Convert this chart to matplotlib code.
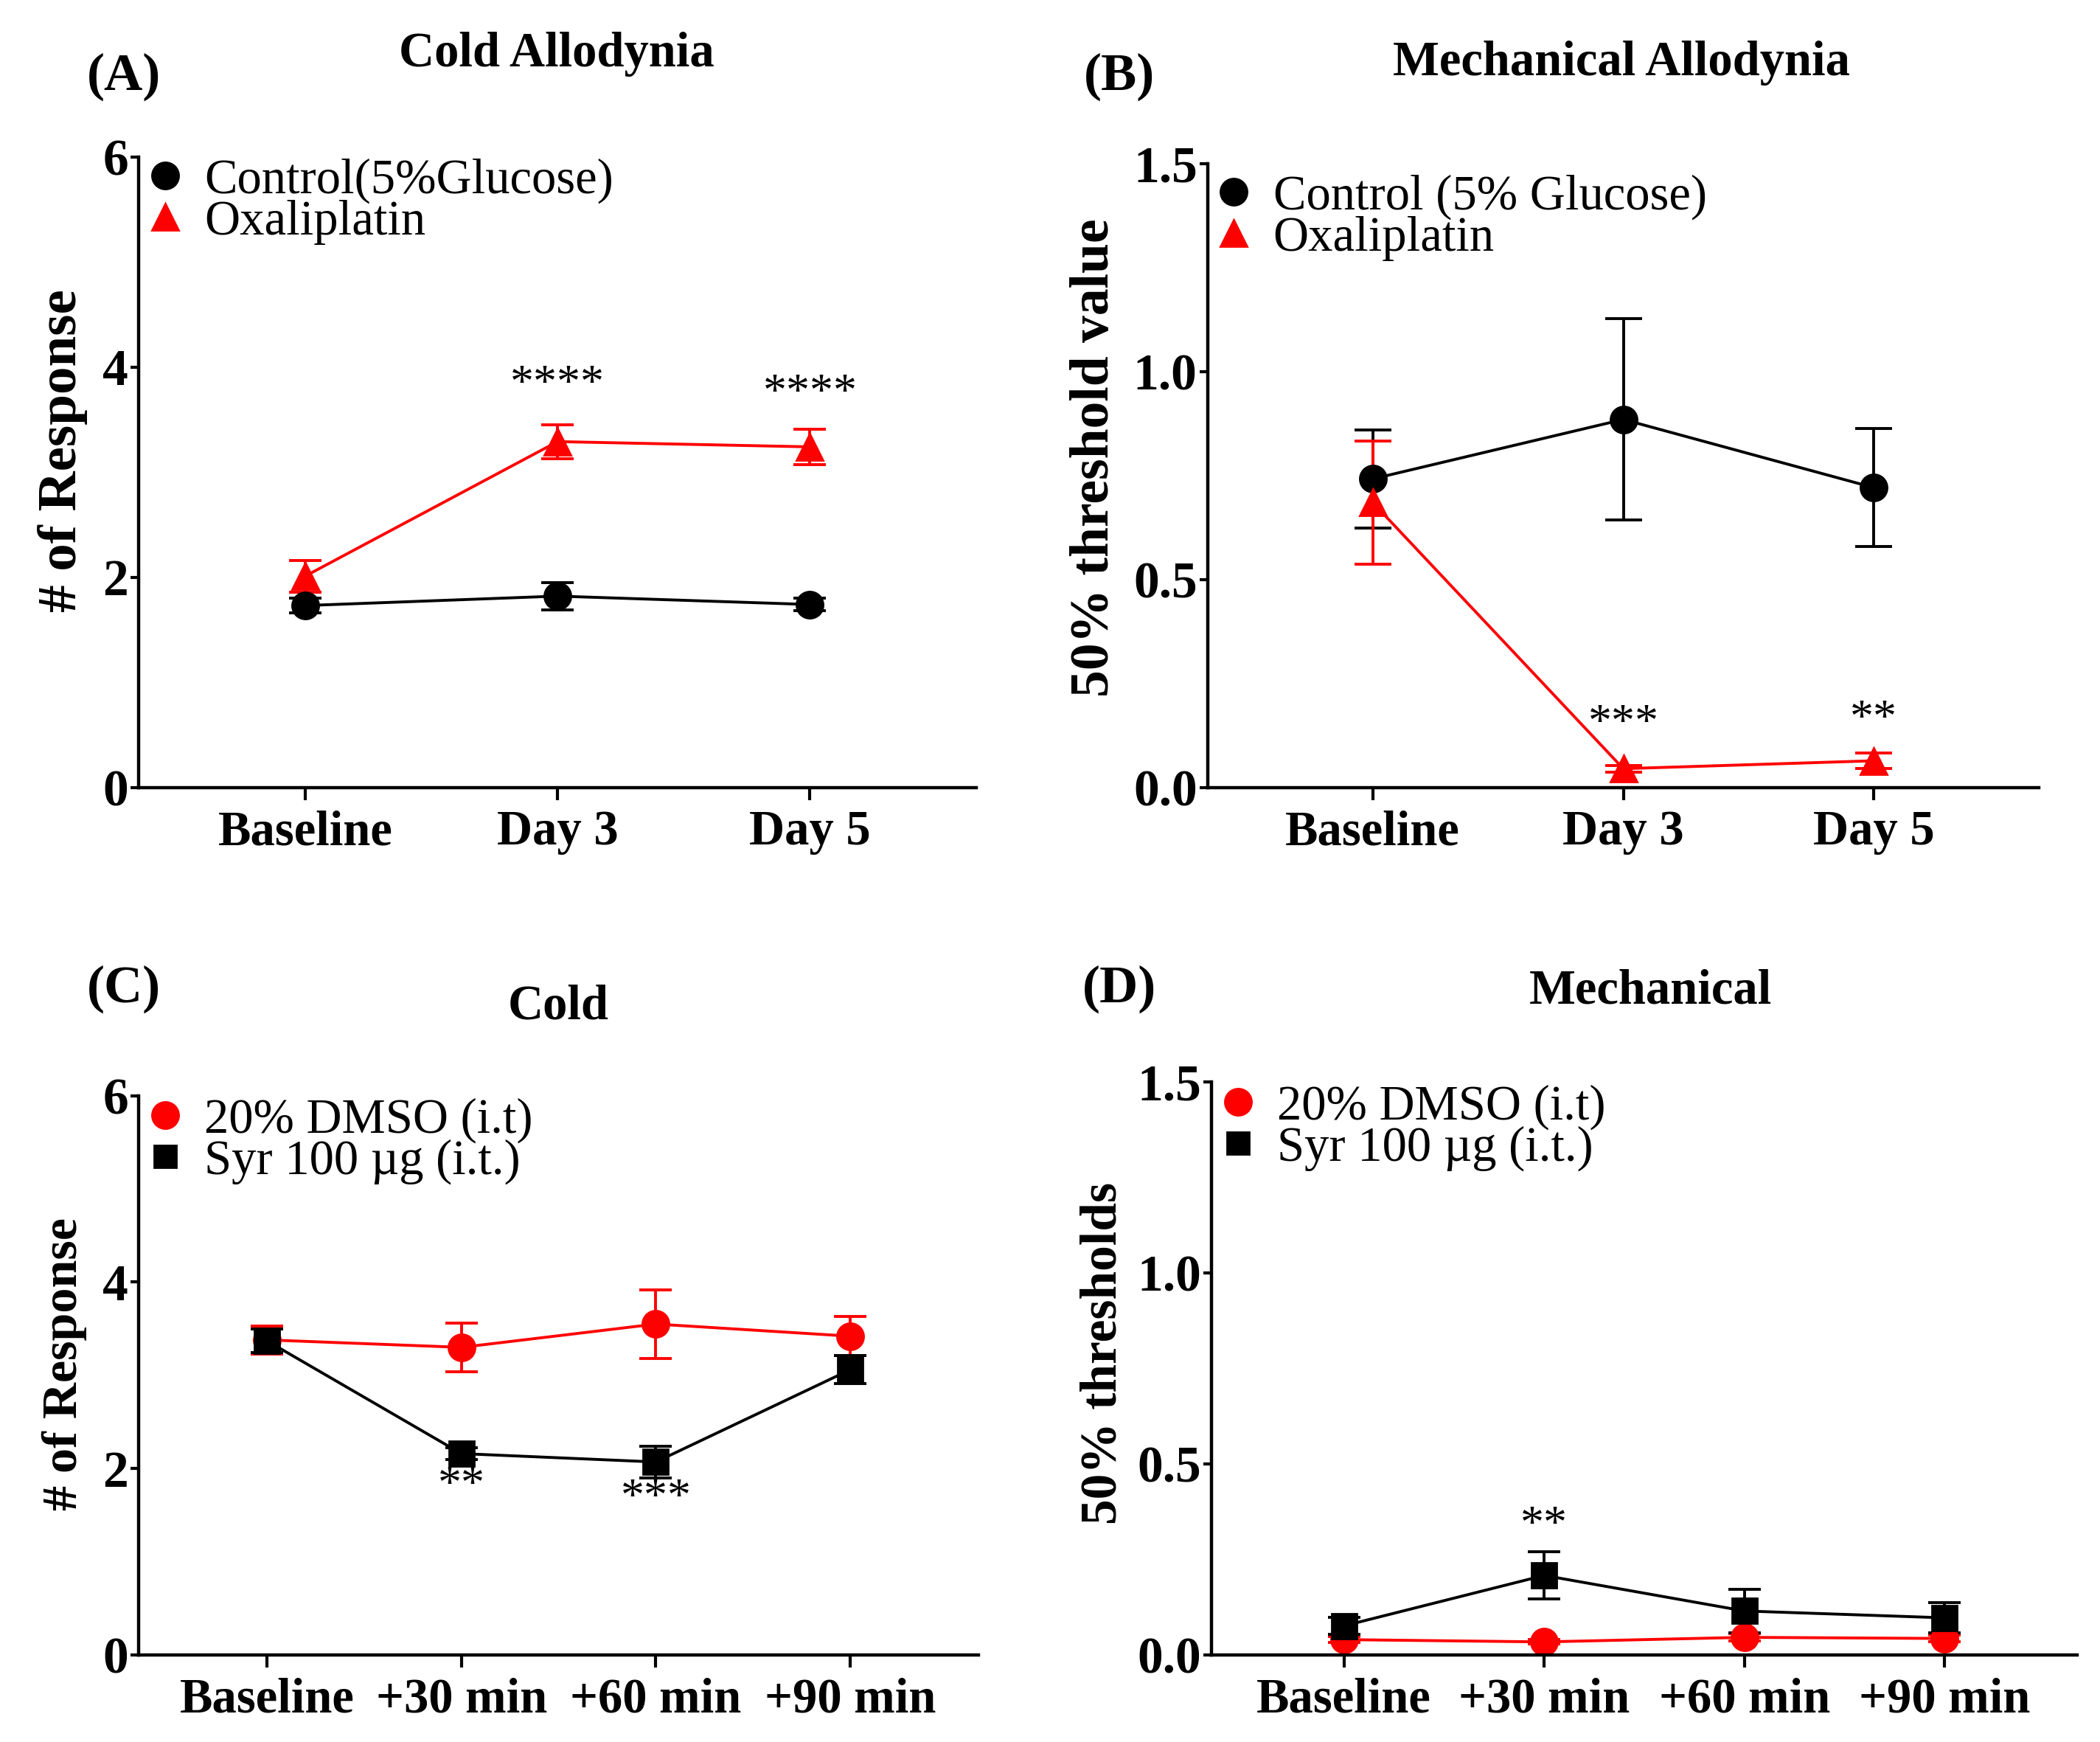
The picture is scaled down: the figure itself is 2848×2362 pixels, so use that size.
import matplotlib
matplotlib.use("Agg")
import matplotlib.pyplot as plt
from matplotlib.lines import Line2D
import numpy as np

plt.rcParams['font.family'] = ['Liberation Serif', 'DejaVu Serif']

RED = '#ff0000'

# ---------------- data ----------------
days = ['Baseline', 'Day 3', 'Day 5']
cold_ctrl = [1.73, 1.82, 1.74]
cold_ctrl_err = [0.07, 0.13, 0.06]
cold_oxa = [2.01, 3.29, 3.24]
cold_oxa_err = [0.15, 0.16, 0.17]
cold_stars = ['', '****', '****']
cold_star_y = [0, 3.82, 3.74]

mech_ctrl = [0.742, 0.885, 0.721]
mech_ctrl_err = [0.118, 0.242, 0.142]
mech_oxa = [0.685, 0.045, 0.064]
mech_oxa_err = [0.148, 0.008, 0.018]
mech_stars = ['', '***', '**']
mech_star_y = [0, 0.15, 0.16]

times = ['Baseline', '+30 min', '+60 min', '+90 min']
cold_dmso = [3.38, 3.30, 3.55, 3.42]
cold_dmso_err = [0.15, 0.26, 0.37, 0.21]
cold_syr = [3.37, 2.16, 2.07, 3.06]
cold_syr_err = [0.13, 0.06, 0.17, 0.15]
cold2_stars = ['', '**', '***', '']
cold2_star_y = [0, 1.80, 1.67, 0]

mech_dmso = [0.040, 0.034, 0.046, 0.043]
mech_dmso_err = [0.008, 0.006, 0.010, 0.008]
mech_syr = [0.076, 0.208, 0.115, 0.097]
mech_syr_err = [0.022, 0.062, 0.057, 0.040]
mech2_stars = ['', '**', '', '']
mech2_star_y = [0, 0.335, 0, 0]


def style_axis(ax, labels, ylim, yticks, yticklabels):
    n = len(labels)
    ax.set_xlim(-0.66, n - 1 + 0.66)
    ax.set_ylim(*ylim)
    ax.set_xticks(range(n))
    ax.set_xticklabels(labels, fontsize=24, fontweight='bold')
    ax.set_yticks(yticks)
    ax.set_yticklabels(yticklabels, fontsize=25, fontweight='bold')
    for s in ['top', 'right']:
        ax.spines[s].set_visible(False)
    for s in ['left', 'bottom']:
        ax.spines[s].set_linewidth(1.6)
    ax.tick_params(axis='x', length=6, width=1.5, pad=5)
    ax.tick_params(axis='y', length=4, width=1.5, pad=1)


def add_stars(ax, stars, ys):
    for i, (s, y) in enumerate(zip(stars, ys)):
        if s:
            ax.text(i, y, s, ha='center', va='center', fontsize=23)


def add_legend(ax, handles, labels, top):
    ax.legend(handles, labels, loc='upper left', bbox_to_anchor=(0.005, top),
              frameon=False, fontsize=24, handlelength=0.9, handletextpad=0.35,
              labelspacing=-0.08, borderaxespad=0, borderpad=0)


fig = plt.figure(figsize=(14.24, 11.81), dpi=200)
eb = dict(lw=1.4, capthick=1.4, elinewidth=1.4)

# ---------------- (A) Cold Allodynia ----------------
axA = fig.add_axes([0.066, 0.548, 0.399, 0.362])
x = np.arange(len(days))
axA.errorbar(x, cold_ctrl, yerr=cold_ctrl_err, color='black', marker='o', ms=13,
             capsize=8, **eb)
axA.errorbar(x, cold_oxa, yerr=cold_oxa_err, color=RED, marker='^', ms=13,
             capsize=8, **eb)
style_axis(axA, days, (0, 6), [0, 2, 4, 6], ['0', '2', '4', '6'])
add_stars(axA, cold_stars, cold_star_y)
add_legend(axA,
           [Line2D([], [], color='black', marker='o', ls='', ms=13),
            Line2D([], [], color=RED, marker='^', ls='', ms=13)],
           ['Control(5%Glucose)', 'Oxaliplatin'], 0.998)
axA.set_ylabel('# of Response', fontsize=27, fontweight='bold')
axA.yaxis.set_label_coords(-0.061, 0.534)

# ---------------- (B) Mechanical Allodynia ----------------
axB = fig.add_axes([0.575, 0.548, 0.396, 0.358])
axB.errorbar(x, mech_ctrl, yerr=mech_ctrl_err, color='black', marker='o', ms=13,
             capsize=9, **eb)
axB.errorbar(x, mech_oxa, yerr=mech_oxa_err, color=RED, marker='^', ms=13,
             capsize=9, **eb)
style_axis(axB, days, (0, 1.5), [0, 0.5, 1.0, 1.5], ['0.0', '0.5', '1.0', '1.5'])
add_stars(axB, mech_stars, mech_star_y)
add_legend(axB,
           [Line2D([], [], color='black', marker='o', ls='', ms=13),
            Line2D([], [], color=RED, marker='^', ls='', ms=13)],
           ['Control (5% Glucose)', 'Oxaliplatin'], 0.983)
axB.set_ylabel('50% threshold value', fontsize=26.5, fontweight='bold')
axB.yaxis.set_label_coords(-0.105, 0.529)

# ---------------- (C) Cold ----------------
axC = fig.add_axes([0.066, 0.050, 0.400, 0.321])
x2 = np.arange(len(times))
axC.errorbar(x2, cold_dmso, yerr=cold_dmso_err, color=RED, marker='o', ms=13,
             capsize=8, **eb)
axC.errorbar(x2, cold_syr, yerr=cold_syr_err, color='black', marker='s', ms=12,
             capsize=8, **eb)
style_axis(axC, times, (0, 6), [0, 2, 4, 6], ['0', '2', '4', '6'])
add_stars(axC, cold2_stars, cold2_star_y)
add_legend(axC,
           [Line2D([], [], color=RED, marker='o', ls='', ms=13),
            Line2D([], [], color='black', marker='s', ls='', ms=11)],
           ['20% DMSO (i.t)', 'Syr 100 µg (i.t.)'], 0.997)
axC.set_ylabel('# of Response', fontsize=24.5, fontweight='bold')
axC.yaxis.set_label_coords(-0.061, 0.52)

# ---------------- (D) Mechanical ----------------
axD = fig.add_axes([0.577, 0.050, 0.412, 0.329])
axD.errorbar(x2, mech_dmso, yerr=mech_dmso_err, color=RED, marker='o', ms=13,
             capsize=8, **eb)
axD.errorbar(x2, mech_syr, yerr=mech_syr_err, color='black', marker='s', ms=12,
             capsize=8, **eb)
style_axis(axD, times, (0, 1.5), [0, 0.5, 1.0, 1.5], ['0.0', '0.5', '1.0', '1.5'])
add_stars(axD, mech2_stars, mech2_star_y)
add_legend(axD,
           [Line2D([], [], color=RED, marker='o', ls='', ms=13),
            Line2D([], [], color='black', marker='s', ls='', ms=11)],
           ['20% DMSO (i.t)', 'Syr 100 µg (i.t.)'], 0.996)
axD.set_ylabel('50% thresholds', fontsize=25, fontweight='bold')
axD.yaxis.set_label_coords(-0.098, 0.526)

# ---------------- panel letters and titles ----------------
fig.text(0.059, 0.956, '(A)', fontsize=26, fontweight='bold', ha='center', va='center')
fig.text(0.265, 0.969, 'Cold Allodynia', fontsize=24, fontweight='bold', ha='center', va='center')
fig.text(0.533, 0.956, '(B)', fontsize=26, fontweight='bold', ha='center', va='center')
fig.text(0.772, 0.964, 'Mechanical Allodynia', fontsize=24, fontweight='bold', ha='center', va='center')
fig.text(0.059, 0.432, '(C)', fontsize=26, fontweight='bold', ha='center', va='center')
fig.text(0.266, 0.422, 'Cold', fontsize=24, fontweight='bold', ha='center', va='center')
fig.text(0.533, 0.432, '(D)', fontsize=26, fontweight='bold', ha='center', va='center')
fig.text(0.786, 0.431, 'Mechanical', fontsize=24, fontweight='bold', ha='center', va='center')

fig.savefig('out.png', dpi=200)
